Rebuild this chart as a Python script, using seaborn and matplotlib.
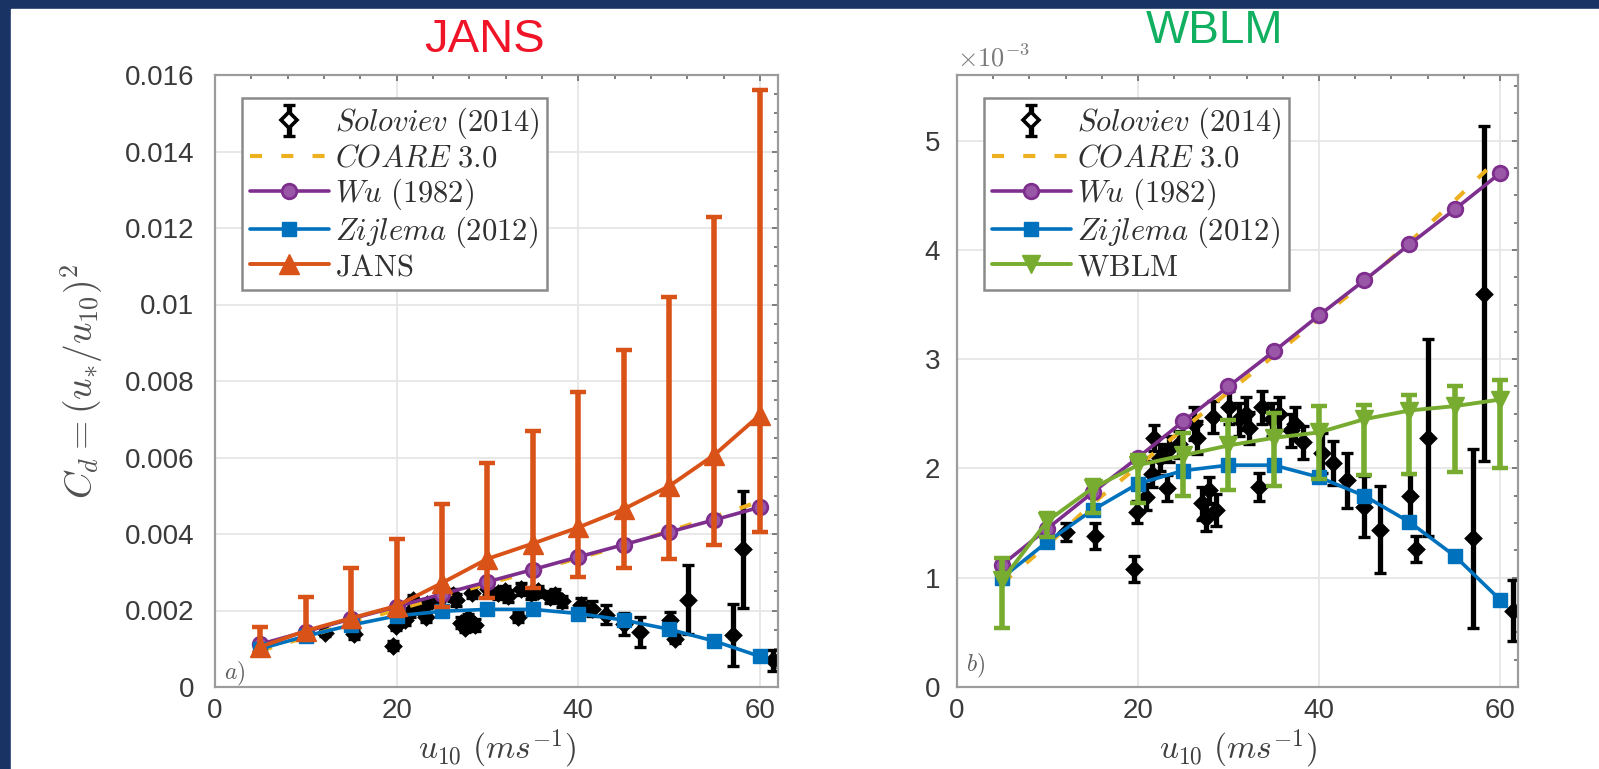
import numpy as np
import pandas as pd
import seaborn as sns
import matplotlib
matplotlib.use('Agg')
import matplotlib.pyplot as plt
from matplotlib.ticker import MultipleLocator, FuncFormatter
from matplotlib.patches import Rectangle
from matplotlib.legend_handler import HandlerErrorbar
from matplotlib.container import ErrorbarContainer

# wind speed of the model curves [m/s]
u_model = [5, 10, 15, 20, 25, 30, 35, 40, 45, 50, 55, 60]

# drag coefficients, in units of 1e-3
wu_1982 = [1.12, 1.45, 1.78, 2.10, 2.43, 2.75, 3.07, 3.40, 3.72, 4.05, 4.37, 4.70]
coare_30 = [0.95, 1.30, 1.68, 2.02, 2.36, 2.70, 3.03, 3.37, 3.70, 4.07, 4.45, 4.85]
zijlema_2012 = [1.00, 1.33, 1.62, 1.86, 1.98, 2.03, 2.03, 1.92, 1.75, 1.51, 1.20, 0.80]

jans = [1.05, 1.47, 1.80, 2.12, 2.72, 3.35, 3.75, 4.17, 4.65, 5.25, 6.07, 7.11]
jans_low = [0.90, 1.30, 1.57, 1.85, 2.10, 2.33, 2.60, 2.87, 3.10, 3.35, 3.70, 4.05]
jans_high = [1.57, 2.36, 3.10, 3.87, 4.78, 5.85, 6.70, 7.70, 8.80, 10.2, 12.3, 15.6]

wblm = [0.98, 1.52, 1.82, 2.03, 2.12, 2.21, 2.28, 2.33, 2.45, 2.53, 2.57, 2.63]
wblm_low = [0.54, 1.37, 1.59, 1.68, 1.75, 1.80, 1.84, 1.90, 1.94, 1.95, 1.97, 2.00]
wblm_high = [1.18, 1.59, 1.89, 2.12, 2.32, 2.44, 2.51, 2.57, 2.58, 2.67, 2.75, 2.81]

# Soloviev (2014) measurements
sol_u = [12.1, 15.3, 19.6, 19.9, 20.9, 21.5, 21.8, 22.4, 23.2, 23.4,
         24.5, 26.2, 26.5, 27.1, 27.5, 27.9, 28.3, 28.6, 30.1, 31.2,
         31.9, 32.3, 33.4, 33.7, 34.8, 35.6, 36.9, 37.4, 38.2, 40.3,
         41.5, 43.1, 45.0, 46.8, 50.1, 50.7, 52.1, 57.0, 58.2, 61.5]
sol_cd = [1.42, 1.38, 1.08, 1.60, 1.74, 1.95, 2.28, 2.10, 1.82, 2.18,
          2.22, 2.41, 2.28, 1.68, 1.55, 1.80, 2.47, 1.62, 2.56, 2.45,
          2.50, 2.37, 1.83, 2.56, 2.45, 2.50, 2.35, 2.41, 2.24, 2.14,
          2.05, 1.89, 1.65, 1.44, 1.75, 1.26, 2.28, 1.36, 3.60, 0.70]
sol_err = [0.08, 0.12, 0.12, 0.10, 0.12, 0.12, 0.12, 0.12, 0.12, 0.12,
           0.12, 0.15, 0.15, 0.15, 0.12, 0.12, 0.15, 0.15, 0.15, 0.15,
           0.15, 0.15, 0.13, 0.15, 0.15, 0.15, 0.15, 0.15, 0.15, 0.18,
           0.20, 0.25, 0.28, 0.40, 0.20, 0.12, 0.90, 0.82, 1.53, 0.28]

C_WU = '#7E2F8E'
C_COARE = '#EDB120'
C_ZIJ = '#0072BD'
C_JANS = '#D95319'
C_WBLM = '#77AC30'
NAVY = '#1a3365'
GREY = '#3a3a3a'

L_SOL = r'$Soloviev\ \mathrm{(2014)}$'
L_COARE = r'$COARE\ \mathrm{3.0}$'
L_WU = r'$Wu\ \mathrm{(1982)}$'
L_ZIJ = r'$Zijlema\ \mathrm{(2012)}$'

sns.set_theme(style='whitegrid')
plt.rcParams.update({
    'mathtext.fontset': 'cm',
    'axes.edgecolor': '#9c9c9c',
    'axes.linewidth': 1.6,
    'grid.color': '#e6e6e6',
    'grid.linewidth': 1.3,
    'axes.facecolor': 'white',
})
plt.rcParams['font.family'] = ['Liberation Sans', 'DejaVu Sans']

W, H = 1599, 769
fig = plt.figure(figsize=(W / 100, H / 100), dpi=100)
fig.patch.set_facecolor(NAVY)
fig.add_artist(Rectangle((11 / W, 0), (W - 11) / W, (H - 9) / H,
                         transform=fig.transFigure, color='white', zorder=-10))

ax1 = fig.add_axes([215 / W, (H - 687) / H, 563 / W, 612 / H])
ax2 = fig.add_axes([957 / W, (H - 687) / H, 561 / W, 612 / H])


def hollow_diamond(handle, orig):
    # legend shows the diamond open, the plot shows it filled
    handle.update_from(orig)
    if hasattr(handle, 'get_marker') and handle.get_marker() == 'D':
        handle.set_markerfacecolor('white')
        handle.set_markersize(8)
        handle.set_markeredgewidth(2.6)


def draw_panel(ax, scale, name, vals, low, high, color, marker, msize):
    s = np.array(sol_cd) * scale
    ax.errorbar(sol_u, s, yerr=np.array(sol_err) * scale, fmt='D', ms=7.2,
                mfc='black', mec='black', mew=2.4, ecolor='black', elinewidth=3.8,
                capsize=4.2, capthick=3, label=L_SOL, zorder=2)
    df = pd.DataFrame({'u': u_model,
                       'coare': np.array(coare_30) * scale,
                       'wu': np.array(wu_1982) * scale,
                       'zij': np.array(zijlema_2012) * scale,
                       'mod': np.array(vals) * scale})
    sns.lineplot(data=df, x='u', y='coare', ax=ax, color=C_COARE, lw=3,
                 linestyle=(0, (2.9, 4.6)), label=L_COARE, zorder=3)
    sns.lineplot(data=df, x='u', y='wu', ax=ax, color=C_WU, lw=2.6, marker='o', ms=10.5,
                 mfc='#9a57a8', mec=C_WU, mew=2, label=L_WU, zorder=4)
    sns.lineplot(data=df, x='u', y='zij', ax=ax, color=C_ZIJ, lw=2.6, marker='s', ms=10.5,
                 mfc=C_ZIJ, mec=C_ZIJ, mew=1, label=L_ZIJ, zorder=5)
    v = np.array(vals) * scale
    ax.errorbar(u_model, v, yerr=[v - np.array(low) * scale, np.array(high) * scale - v],
                fmt='none', ecolor=color, elinewidth=4, capsize=5.5, capthick=3.2, zorder=6)
    sns.lineplot(data=df, x='u', y='mod', ax=ax, color=color, lw=2.8, marker=marker, ms=msize,
                 mfc=color, mec=color, mew=1, label=r'$\mathrm{' + name + '}$', zorder=7)

    handles, labels = ax.get_legend_handles_labels()
    want = [L_SOL, L_COARE, L_WU, L_ZIJ, r'$\mathrm{' + name + '}$']
    order = [labels.index(l) for l in want]
    leg = ax.legend([handles[i] for i in order], [labels[i] for i in order],
                    loc='upper left', bbox_to_anchor=(0.048, 0.962), borderaxespad=0,
                    fontsize=22, labelspacing=0.08, handlelength=2.6, handletextpad=0.2,
                    borderpad=0.25, fancybox=False, framealpha=1, edgecolor='#8a8a8a',
                    handler_map={ErrorbarContainer: HandlerErrorbar(update_func=hollow_diamond)})
    leg.get_frame().set_linewidth(1.8)
    for t in leg.get_texts():
        t.set_color('#303030')

    ax.set_xlim(0, 62)
    ax.xaxis.set_major_locator(MultipleLocator(20))
    ax.xaxis.set_minor_locator(MultipleLocator(4))
    ax.grid(True, which='major')
    ax.grid(False, which='minor')
    ax.tick_params(which='both', direction='in', top=True, right=True, colors='#6a6a6a',
                   labelcolor=GREY, labelsize=20, width=1.2)
    ax.tick_params(which='major', length=4)
    ax.tick_params(which='minor', length=3)
    ax.tick_params(axis='x', pad=8)
    ax.set_xlabel(r'$u_{10}\ (ms^{-1})$', fontsize=24, color='#404040')
    ax.xaxis.set_label_coords(0.5, -0.066)
    for sp in ax.spines.values():
        sp.set_visible(True)
        sp.set_color('#9c9c9c')


# left panel: JANS
draw_panel(ax1, 1e-3, 'JANS', jans, jans_low, jans_high, C_JANS, '^', 14)
ax1.set_ylim(0, 0.016)
ax1.yaxis.set_major_locator(MultipleLocator(0.002))
ax1.yaxis.set_minor_locator(MultipleLocator(0.0005))
ax1.yaxis.set_major_formatter(FuncFormatter(lambda v, p: '%g' % round(v, 6)))
ax1.tick_params(axis='y', pad=15)
ax1.set_ylabel(r'$C_d = (u_{*}/u_{10})^2$', fontsize=27, color='#505050')
ax1.yaxis.set_label_coords(-0.195, 0.5)
ax1.text(0.016, 0.012, r'$a)$', transform=ax1.transAxes, fontsize=17, color='#606060')

# right panel: WBLM
draw_panel(ax2, 1e-3, 'WBLM', wblm, wblm_low, wblm_high, C_WBLM, 'v', 13)
ax2.set_ylim(0, 5.6e-3)
ax2.yaxis.set_major_locator(MultipleLocator(1e-3))
ax2.yaxis.set_minor_locator(MultipleLocator(0.25e-3))
ax2.yaxis.set_major_formatter(FuncFormatter(lambda v, p: '%g' % round(v * 1e3, 6)))
ax2.tick_params(axis='y', pad=12)
ax2.set_ylabel('')
ax2.text(0.0, 1.006, r'$\mathsf{\times 10^{-3}}$', transform=ax2.transAxes, fontsize=19,
         color='#7a7a7a', ha='left', va='bottom')
ax2.text(0.016, 0.025, r'$b)$', transform=ax2.transAxes, fontsize=17, color='#606060')

# panel titles
fig.text(485 / W, 1 - 52 / H, 'JANS', color='#f01428', fontsize=34, ha='center', va='baseline')
fig.text(1215 / W, 1 - 43 / H, 'WBLM', color='#10b060', fontsize=33, ha='center', va='baseline')

fig.savefig('out.png', dpi=100, facecolor=fig.get_facecolor())
